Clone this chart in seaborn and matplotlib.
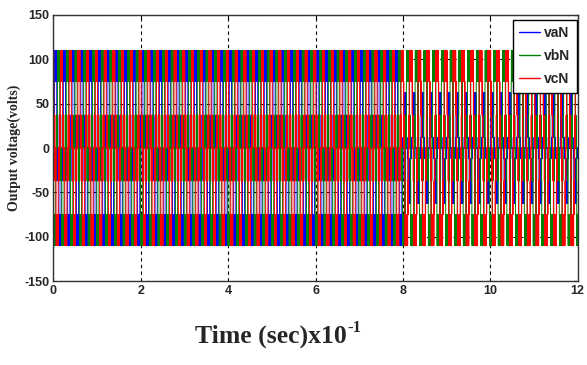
import numpy as np
import pandas as pd
import matplotlib
matplotlib.use("Agg")
import matplotlib.pyplot as plt
import seaborn as sns

# one fundamental cycle = 0.2 (x10^-1 s), 60 samples per cycle
samples_per_cycle = 60
cycle_len = 0.2
cycles_before = 40   # 0 .. 8
cycles_after = 20    # 8 .. 12
phase_names = ["vaN", "vbN", "vcN"]
phase_shift = [0, 20, 40]   # samples (0, 120, 240 deg)
phase_colors = ["#0000ff", "#008000", "#ff0000"]

# positive half-cycle switching patterns (volts)
half_before = [0, 37, 0, 37, 0, 37, 0, 37, 75, 110, 75, 110, 75, 110, 75,
               110, 75, 110, 75, 110, 75, 110, 75, 37, 0, 37, 0, 37, 0, 37]
half_after_bc = [0, 37, 0, 37, 75, 110, 75, 110, 110, 75, 110, 110, 75, 110, 110,
                 75, 110, 110, 75, 110, 110, 75, 110, 75, 37, 75, 37, 0, 37, 0]
half_after_a = [0, 12, 0, 12, 0, 12, 62, 12, 62, 62, 12, 62, 12, 62, 62,
                12, 62, 12, 62, 62, 12, 62, 12, 12, 0, 12, 0, 12, 0, 0]

x_ticks = [0, 2, 4, 6, 8, 10, 12]
y_ticks = [-150, -100, -50, 0, 50, 100, 150]


def full_cycle(half):
    return np.array(half + [-v for v in half], dtype=float)


rows = []
n = samples_per_cycle * (cycles_before + cycles_after)
t = np.arange(n) * cycle_len / samples_per_cycle
for i, name in enumerate(phase_names):
    pre = np.tile(np.roll(full_cycle(half_before), phase_shift[i]), cycles_before)
    post_half = half_after_a if i == 0 else half_after_bc
    post = np.tile(np.roll(full_cycle(post_half), phase_shift[i]), cycles_after)
    v = np.concatenate([pre, post])
    rows.append(pd.DataFrame({"t": t, "v": v, "phase": name}))
df = pd.concat(rows, ignore_index=True)

sns.set_style("white")
fig = plt.figure(figsize=(5.87, 3.65), dpi=100)
ax = fig.add_axes([0.091, 0.230, 0.893, 0.729])

ax.grid(True, color="black", linestyle=(0, (3, 3)), linewidth=0.8)
ax.set_axisbelow(True)

sns.lineplot(data=df, x="t", y="v", hue="phase", hue_order=phase_names,
             palette=phase_colors, estimator=None, sort=False,
             drawstyle="steps-post", linewidth=0.7, ax=ax)

ax.set_xlim(0, 12)
ax.set_ylim(-150, 150)
ax.set_xticks(x_ticks)
ax.set_yticks(y_ticks)
tick_font = ["Liberation Sans Narrow", "Liberation Sans"]
ax.set_xticklabels([str(x) for x in x_ticks], family=tick_font, weight="bold", fontsize=9)
ax.set_yticklabels([str(y) for y in y_ticks], family=tick_font, weight="bold", fontsize=9)
ax.tick_params(direction="in", length=3, width=0.8, color="black", pad=3,
               top=True, right=True)
for s in ax.spines.values():
    s.set_color("#333333")
    s.set_linewidth(1.0)

ax.set_xlabel("")
ax.set_ylabel("Output voltage(volts)", family="Liberation Serif", weight="bold",
              fontsize=10)
ax.yaxis.set_label_coords(-0.062, 0.5)

main = fig.text(195 / 587, 1 - 343 / 365, "Time (sec)x10", family="Liberation Serif",
                weight="bold", fontsize=18.5, ha="left", va="baseline")
fig.canvas.draw()
bb = main.get_window_extent()
fig.text((bb.x1 + 1) / 587, (bb.y0 + 16) / 365, "-1", family="Liberation Serif",
         weight="bold", fontsize=12, ha="left", va="baseline")

leg = ax.legend(loc="upper right", bbox_to_anchor=(0.998, 0.981), frameon=True,
                fancybox=False, framealpha=1, handlelength=1.5, borderaxespad=0,
                borderpad=0.45, handletextpad=0.3, labelspacing=0.65,
                prop={"family": tick_font, "weight": "bold", "size": 10})
leg.get_frame().set_edgecolor("black")
leg.get_frame().set_linewidth(1.0)
for line in leg.get_lines():
    line.set_linewidth(1.0)

fig.savefig("out.png", dpi=100)
